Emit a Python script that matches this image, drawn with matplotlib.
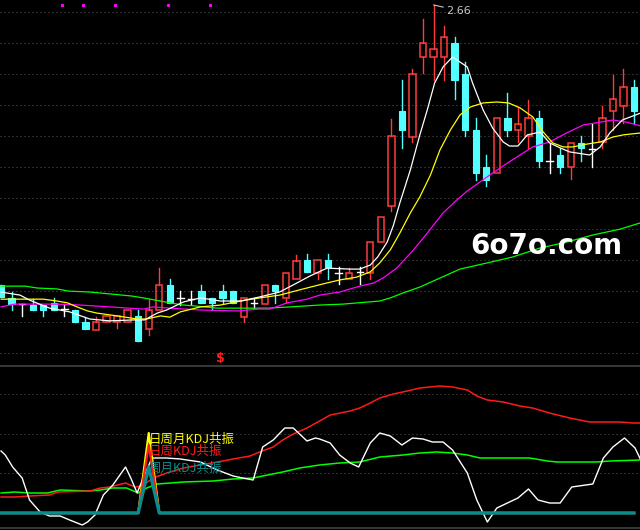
import matplotlib
matplotlib.use("Agg")
import matplotlib.pyplot as plt
import matplotlib.transforms as mtransforms
from matplotlib.patches import Rectangle

plt.rcParams['font.family'] = ['DejaVu Sans', 'Noto Sans CJK SC']

# daily bars, oldest first
opens = [1.761, 1.719, 1.699, 1.696, 1.696, 1.703, 1.683, 1.680, 1.641, 1.615,
         1.641, 1.641, 1.641, 1.661, 1.619, 1.680, 1.761, 1.719, 1.715, 1.741,
         1.719, 1.741, 1.741, 1.657, 1.703, 1.699, 1.761, 1.719, 1.780, 1.841,
         1.799, 1.841, 1.799, 1.780, 1.803, 1.799, 1.899, 2.015, 2.322, 2.238,
         2.496, 2.496, 2.496, 2.541, 2.441, 2.261, 2.141, 2.122, 2.299, 2.261,
         2.241, 2.299, 2.161, 2.180, 2.141, 2.219, 2.199, 2.222, 2.322, 2.338,
         2.399]
highs = [1.761, 1.738, 1.699, 1.715, 1.696, 1.719, 1.699, 1.680, 1.657, 1.657,
         1.661, 1.661, 1.680, 1.680, 1.715, 1.815, 1.780, 1.741, 1.741, 1.761,
         1.719, 1.761, 1.741, 1.719, 1.719, 1.761, 1.761, 1.799, 1.857, 1.861,
         1.841, 1.861, 1.819, 1.815, 1.819, 1.899, 1.980, 2.296, 2.422, 2.457,
         2.619, 2.664, 2.596, 2.561, 2.480, 2.299, 2.180, 2.299, 2.380, 2.335,
         2.357, 2.322, 2.219, 2.203, 2.219, 2.241, 2.280, 2.338, 2.438, 2.457,
         2.422]
lows = [1.722, 1.680, 1.661, 1.680, 1.661, 1.680, 1.661, 1.641, 1.619, 1.615,
        1.641, 1.622, 1.641, 1.580, 1.599, 1.680, 1.703, 1.696, 1.699, 1.703,
        1.680, 1.703, 1.703, 1.641, 1.686, 1.699, 1.703, 1.703, 1.780, 1.803,
        1.780, 1.780, 1.764, 1.780, 1.764, 1.780, 1.899, 1.999, 2.203, 2.222,
        2.445, 2.422, 2.422, 2.361, 2.241, 2.099, 2.080, 2.122, 2.241, 2.222,
        2.203, 2.141, 2.122, 2.122, 2.103, 2.161, 2.141, 2.203, 2.261, 2.283,
        2.283]
closes = [1.722, 1.699, 1.699, 1.680, 1.680, 1.680, 1.683, 1.641, 1.619, 1.641,
          1.661, 1.661, 1.680, 1.580, 1.680, 1.761, 1.703, 1.719, 1.715, 1.703,
          1.703, 1.719, 1.703, 1.719, 1.703, 1.761, 1.741, 1.799, 1.838, 1.803,
          1.841, 1.819, 1.799, 1.799, 1.803, 1.899, 1.980, 2.241, 2.261, 2.441,
          2.541, 2.522, 2.561, 2.422, 2.261, 2.122, 2.099, 2.299, 2.261, 2.280,
          2.299, 2.161, 2.161, 2.141, 2.219, 2.203, 2.199, 2.299, 2.361, 2.399,
          2.322]

# moving averages, sampled along the bar index
ma5_x = [0, 1.8, 2.7, 4.6, 6.5, 8.4, 10.3, 12.5, 13.6, 14.8, 15.7, 17.3, 18.9, 20.8,
         22.7, 24.5, 26.4, 27.7, 29.3, 30.9, 33.1, 34.0, 35.0, 35.7, 36.6, 37.2,
         37.8, 38.8, 39.7, 40.4, 41.1, 41.9, 42.8, 44.2, 44.7, 45.7, 46.6, 47.6,
         48.2, 49.0, 49.9, 51.1, 52.0, 53.0, 53.9, 55.8, 56.8, 57.7, 58.9, 60.6]
ma5_y = [1.738, 1.728, 1.712, 1.686, 1.674, 1.651, 1.645, 1.648, 1.648, 1.670,
         1.680, 1.706, 1.719, 1.709, 1.709, 1.722, 1.738, 1.761, 1.790, 1.815,
         1.812, 1.812, 1.825, 1.851, 1.899, 1.954, 2.025, 2.132, 2.245, 2.325,
         2.412, 2.464, 2.496, 2.464, 2.412, 2.325, 2.267, 2.222, 2.209, 2.209,
         2.245, 2.254, 2.219, 2.203, 2.190, 2.180, 2.206, 2.251, 2.293, 2.315]
ma10_x = [0, 4.0, 5.3, 6.3, 7.2, 8.2, 9.1, 11.0, 12.9, 13.8, 15.1, 16.0, 17.0, 18.9,
          20.8, 22.7, 24.5, 26.4, 28.3, 30.5, 32.1, 33.7, 35.0, 35.9, 36.9, 37.8,
          38.8, 39.7, 40.7, 41.6, 42.6, 43.5, 44.5, 45.7, 47.0, 48.1, 49.2, 50.4,
          51.4, 52.3, 53.3, 54.2, 55.5, 56.8, 58.0, 59.0, 60.6]
ma10_y = [1.715, 1.715, 1.709, 1.703, 1.690, 1.677, 1.670, 1.661, 1.651, 1.651,
          1.661, 1.657, 1.674, 1.690, 1.696, 1.709, 1.719, 1.728, 1.745, 1.764,
          1.777, 1.786, 1.803, 1.832, 1.874, 1.928, 1.993, 2.045, 2.115, 2.196,
          2.261, 2.309, 2.335, 2.348, 2.351, 2.348, 2.332, 2.303, 2.254, 2.219,
          2.206, 2.206, 2.215, 2.222, 2.238, 2.245, 2.251]
ma20_x = [0, 1.3, 5.3, 7.5, 10.3, 13.5, 14.4, 16.0, 18.9, 22.4, 24.5, 25.5, 27.1,
          29.0, 30.2, 32.1, 34.0, 35.3, 36.2, 37.5, 39.1, 40.4, 41.9, 43.2, 44.2,
          45.4, 46.6, 48.0, 49.2, 50.4, 52.0, 53.6, 55.2, 56.8, 58.0, 59.3, 60.6]
ma20_y = [1.690, 1.699, 1.699, 1.696, 1.690, 1.683, 1.690, 1.686, 1.680, 1.677,
          1.683, 1.683, 1.703, 1.715, 1.728, 1.738, 1.757, 1.767, 1.783, 1.815,
          1.874, 1.928, 1.993, 2.035, 2.064, 2.093, 2.122, 2.154, 2.180, 2.206,
          2.222, 2.251, 2.277, 2.286, 2.293, 2.286, 2.274]
ma60_x = [0, 2.3, 3.4, 5.3, 6.4, 8.4, 10.3, 12.4, 13.5, 15.1, 16.0, 17.3, 18.4,
          20.5, 25.3, 27.4, 30.2, 32.4, 35.9, 36.9, 38.1, 39.7, 41.6, 43.5, 46.1,
          48.5, 51.1, 53.6, 56.1, 58.7, 60.6]
ma60_y = [1.757, 1.757, 1.751, 1.748, 1.741, 1.738, 1.732, 1.725, 1.719, 1.709,
          1.703, 1.696, 1.693, 1.686, 1.686, 1.690, 1.696, 1.699, 1.709, 1.719,
          1.735, 1.754, 1.783, 1.812, 1.832, 1.851, 1.880, 1.899, 1.922, 1.941,
          1.961]

high_label = "2.66"
high_bar = 41
buy_dots = [6, 8, 11, 16, 20]
dollar_bar = 21

# lower indicator panel
k_x = [0, 0.4, 1.1, 2.0, 2.7, 3.7, 4.6, 5.6, 6.5, 7.7, 8.2, 8.9, 9.7, 10.6, 11.8,
       12.3, 12.9, 13.4, 14.3, 15.7, 17.0, 18.9, 20.5, 22.0, 22.9, 23.9, 24.8,
       25.8, 26.9, 27.7, 29.0, 29.8, 30.2, 31.2, 32.1, 33.1, 33.9, 35.0, 35.9,
       36.9, 38.0, 39.0, 40.0, 40.9, 41.9, 42.8, 44.2, 45.1, 46.1, 47.0, 48.0,
       49.0, 50.0, 50.9, 52.0, 53.0, 54.1, 56.1, 57.1, 58.0, 59.1, 60.1, 60.6]
k_y = [31, 29, 23, 17.5, 6.5, 0.5, -1.5, -1.5, -3.5, -6, -4.5, -1, 9, 14, 23,
       17.5, 10, 16.5, 27.5, 27.5, 27, 25.5, 21.5, 18.5, 17.5, 16.5, 33,
       36.5, 42.5, 42.5, 36, 37.5, 37, 35, 29, 25, 23, 35, 40,
       38.5, 34, 37.5, 37, 35.5, 35.5, 31.5, 20, 6.5, -4.5, 2.5, 5,
       7.5, 12, 6.5, 5, 5, 13, 14.5, 27.5, 33, 37.5, 32.5, 27]
d_x = [0, 1.3, 2.7, 4.6, 5.4, 8.4, 9.4, 10.3, 11.8, 12.7, 13.4, 14.4, 15.7, 17.3,
       18.9, 20.5, 22.0, 23.6, 24.5, 25.8, 26.7, 27.7, 29.0, 30.2, 31.2, 33.1,
       34.0, 35.0, 35.9, 37.2, 38.5, 39.7, 41.6, 42.8, 44.2, 45.1, 46.1, 47.6,
       49.2, 50.4, 52.0, 53.9, 55.8, 58.7, 59.9, 60.6]
d_y = [8, 8, 8.5, 9, 10.5, 11, 12.5, 13, 15, 13, 13.5, 17.5, 20, 22.5,
       24, 25.5, 27, 28.5, 30.5, 33, 36.5, 39.5, 42.5, 46, 49, 51,
       52.5, 55, 57.5, 59.5, 61, 62.5, 63.5, 63, 61.5, 58.5, 56.5, 55.5,
       53.5, 52.5, 50, 47.5, 45.5, 45.5, 45, 45]
j_x = [0, 1.3, 2.7, 4.4, 5.6, 8.4, 9.4, 10.6, 11.9, 13.0, 13.8, 14.8, 17.3, 20.1,
       22.0, 23.9, 24.8, 26.7, 28.3, 30.2, 32.1, 34.0, 35.9, 38.1, 39.7, 41.3,
       42.8, 44.2, 45.4, 46.6, 50.1, 51.8, 52.7, 56.5, 57.7, 60.6]
j_y = [10, 10.5, 10, 10, 11.5, 11, 11.5, 12.5, 12.5, 10, 12.5, 14.5, 15.5, 16,
       17, 17.5, 18.5, 20.5, 22.5, 24, 25, 25.5, 28, 29, 30, 30.5,
       30, 29, 27.5, 27.5, 27.5, 26, 25.5, 25.5, 26, 26.5]

n = len(closes)
resonance_all = [0] * 14 + [40] + [0] * (n - 15)    # 日周月KDJ共振
resonance_dw = [0] * 14 + [34] + [0] * (n - 15)     # 日周KDJ共振
resonance_wm = [0] * 14 + [23] + [0] * (n - 15)     # 周月KDJ共振

UP = "#ff3c3c"
DOWN = "#54ffff"
GRID = "#5a5a5a"

fig = plt.figure(figsize=(6.4, 5.3), dpi=100, facecolor="black")
ax = fig.add_axes([0, 164 / 530, 1, 366 / 530], facecolor="black")
ax2 = fig.add_axes([0, 2 / 530, 1, 161 / 530], facecolor="black")

for a in (ax, ax2):
    a.set_xlim(-0.1, 60.57)
    a.set_xticks([])
    a.set_yticks([])
    for s in ("top", "left", "right"):
        a.spines[s].set_visible(False)
    a.spines["bottom"].set_color("#444444")
    a.spines["bottom"].set_linewidth(1.2)

ax.set_ylim(1.4994, 2.680)
ax2.set_ylim(-7.5, 73)

for k in range(12):
    ax.axhline(1.54 + 0.1 * k, color=GRID, lw=0.72, ls=(0, (1, 3)), zorder=0)
for g in (20, 39.75, 59.5):
    ax2.axhline(g, color=GRID, lw=0.72, ls=(0, (1, 3)), zorder=0)

# candles
w = 0.6
for i in range(n):
    o, h, l, c = opens[i], highs[i], lows[i], closes[i]
    if c > o:
        ax.plot([i, i], [c, h], color=UP, lw=1, zorder=2)
        ax.plot([i, i], [l, o], color=UP, lw=1, zorder=2)
        ax.add_patch(Rectangle((i - w / 2, o), w, c - o, facecolor="none",
                               edgecolor=UP, lw=1.1, zorder=2))
    elif c < o:
        ax.plot([i, i], [l, h], color=DOWN, lw=1, zorder=2)
        ax.add_patch(Rectangle((i - w / 2, c), w, o - c, facecolor=DOWN,
                               edgecolor=DOWN, lw=0.8, zorder=2))
    else:
        ax.plot([i, i], [l, h], color="white", lw=1, zorder=2)
        ax.plot([i - w / 2, i + w / 2], [c, c], color="white", lw=1, zorder=2)

ax.plot(ma60_x, ma60_y, color="#00ff00", lw=0.9, zorder=3)
ax.plot(ma20_x, ma20_y, color="#ff00ff", lw=0.9, zorder=3)
ax.plot(ma10_x, ma10_y, color="#ffff00", lw=0.9, zorder=3)
ax.plot(ma5_x, ma5_y, color="white", lw=0.9, zorder=3)

shift = mtransforms.ScaledTranslation(-2 / 100, 0, fig.dpi_scale_trans)
ax.plot(buy_dots, [2.664] * len(buy_dots), ls="none", marker="s", ms=1.3,
        color="#ff00ff", transform=ax.transData + shift)
ax.text(dollar_bar, 1.522, "$", color="#ff2020", fontsize=9, fontweight="bold",
        ha="center", va="center", transform=ax.transData + shift)

ax.annotate(high_label, xy=(high_bar, highs[high_bar]), xytext=(9, -4),
            textcoords="offset points", color="#c8c8c8", fontsize=8,
            ha="left", va="center",
            arrowprops=dict(arrowstyle="-", color="#c8c8c8", lw=0.8,
                            shrinkA=0, shrinkB=0))

ax.text(470 / 640, (366 - 254) / 366, "6o7o.com", transform=ax.transAxes,
        color="white", fontsize=20, fontweight="bold", ha="left",
        va="baseline", zorder=5)

# indicator panel
ax2.plot(j_x, j_y, color="#00ff00", lw=1.1)
ax2.plot(d_x, d_y, color="#ff1a1a", lw=1.1)
ax2.plot(k_x, k_y, color="white", lw=1.0)
xs = list(range(n))
ax2.plot(xs, resonance_all, color="#ffff00", lw=1.6)
ax2.plot(xs, resonance_dw, color="#ff1a1a", lw=1.6)
ax2.plot(xs, resonance_wm, color="#0a8c8c", lw=2.4)

cjk = ["Noto Sans CJK SC", "DejaVu Sans"]
ax2.text(14, 40, "日周月KDJ共振", color="#ffff00", fontsize=9, family=cjk,
         ha="left", va="top")
ax2.text(14, 34, "日周KDJ共振", color="#ff1a1a", fontsize=9, family=cjk,
         ha="left", va="top")
ax2.text(14, 25.5, "周月KDJ共振", color="#0a8c8c", fontsize=9, family=cjk,
         ha="left", va="top")

plt.savefig("out.png", dpi=100, facecolor="black")
